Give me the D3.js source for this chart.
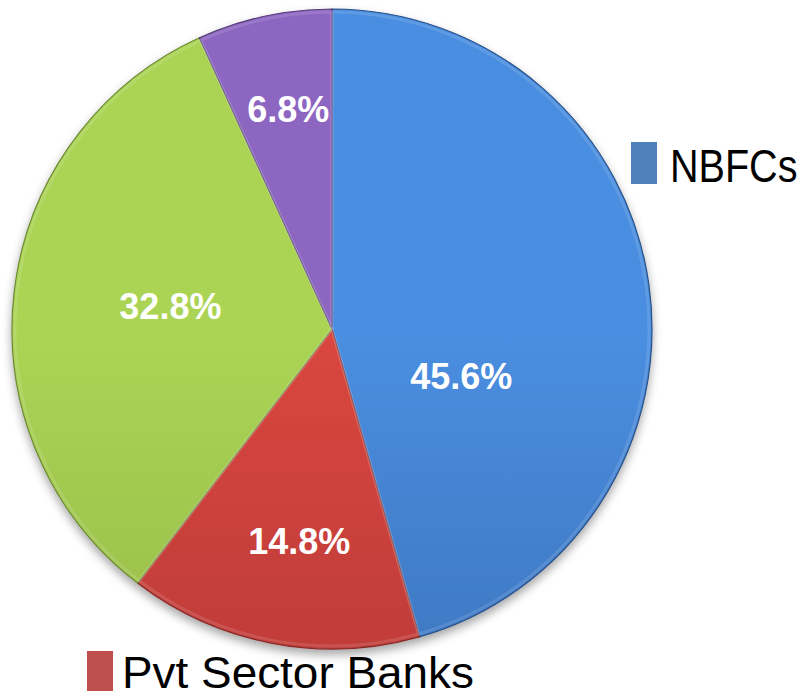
<!DOCTYPE html>
<html>
<head>
<meta charset="utf-8">
<script src="https://cdn.jsdelivr.net/npm/d3@7"></script>
<style>
  html, body { margin: 0; padding: 0; background: #ffffff; }
  svg { display: block; }
</style>
</head>
<body>
<svg id="chart" width="807" height="698"></svg>
<script>
// ---- data ----
const categories = ["NBFCs", "Pvt Sector Banks", "Public Sector Banks", "Others"];
const shares = [45.6, 14.8, 32.8, 6.8];
const labels = ["45.6%", "14.8%", "32.8%", "6.8%"];
const legendShown = ["NBFCs", "Pvt Sector Banks"];

// ---- styles / layout (not data) ----
const topColors = ["#4a8ee0", "#d9463f", "#abd454", "#8d66c2"];
const botColors = ["#3463a6", "#a73433", "#87a843", "#6b4b93"];
const legendColors = {"NBFCs": "#4f81bd", "Pvt Sector Banks": "#c0504d"};
const cx = 332, cy = 329, R = 320;
// label placement: [angle shift in degrees, radius fraction]
const labelLayout = [[28, 0.43], [-2, 0.67], [1.5, 0.51], [1, 0.70]];

const svg = d3.select("#chart");
const defs = svg.append("defs");

const shadow = defs.append("filter").attr("id", "shadow")
  .attr("x", "-10%").attr("y", "-10%").attr("width", "120%").attr("height", "125%");
shadow.append("feDropShadow").attr("dx", 0).attr("dy", 5).attr("stdDeviation", 5)
  .attr("flood-color", "#000").attr("flood-opacity", 0.35);

categories.forEach((c, i) => {
  const g = defs.append("linearGradient").attr("id", "grad" + i)
    .attr("gradientUnits", "userSpaceOnUse")
    .attr("x1", cx).attr("y1", cy - R).attr("x2", cx).attr("y2", cy + R);
  g.append("stop").attr("offset", "0%").attr("stop-color", topColors[i]);
  g.append("stop").attr("offset", "100%").attr("stop-color", botColors[i]);
});

const pie = d3.pie().sort(null).value(d => d)(shares);
const arc = d3.arc().innerRadius(0).outerRadius(R);

const gPie = svg.append("g").attr("transform", `translate(${cx},${cy})`);
gPie.append("g").attr("filter", "url(#shadow)")
  .selectAll("path").data(pie).join("path")
  .attr("d", arc)
  .attr("fill", (d, i) => `url(#grad${i})`)
  .attr("stroke", (d, i) => d3.color(botColors[i]).darker(0.6))
  .attr("stroke-width", 1.2)
  .attr("stroke-linejoin", "round");

// inner bevel highlight
gPie.selectAll("path.bevel").data(pie).join("path")
  .attr("class", "bevel")
  .attr("d", d3.arc().innerRadius(0).outerRadius(R - 3))
  .attr("fill", "none")
  .attr("stroke", "#ffffff")
  .attr("stroke-opacity", 0.12)
  .attr("stroke-width", 3);

gPie.selectAll("text.lbl").data(pie).join("text")
  .attr("class", "lbl")
  .attr("transform", (d, i) => {
    const a = (d.startAngle + d.endAngle) / 2 + labelLayout[i][0] * Math.PI / 180;
    const r = R * labelLayout[i][1];
    return `translate(${r * Math.sin(a)},${-r * Math.cos(a)})`;
  })
  .attr("text-anchor", "middle")
  .attr("dy", "0.36em")
  .attr("font-family", "Liberation Sans, Arial, sans-serif")
  .attr("font-weight", "bold")
  .attr("font-size", 36)
  .attr("fill", "#ffffff")
  .text((d, i) => labels[i]);

// legend (only the visible entries)
// [rectX, rectY, rectH, textX, baselineY, horizontal scale, fontSize]
const legendPos = {
  "NBFCs": [631, 142, 42, 670, 182, 0.86, 46],
  "Pvt Sector Banks": [87, 651, 40, 122, 688, 1.02, 45]
};
legendShown.forEach(name => {
  const p = legendPos[name];
  svg.append("rect").attr("x", p[0]).attr("y", p[1]).attr("width", 26).attr("height", p[2])
    .attr("fill", legendColors[name]);
  svg.append("text")
    .attr("transform", `translate(${p[3]},${p[4]}) scale(${p[5]},1)`)
    .attr("font-family", "Liberation Sans, Arial, sans-serif")
    .attr("font-size", p[6])
    .attr("fill", "#000")
    .text(name);
});
</script>
</body>
</html>
